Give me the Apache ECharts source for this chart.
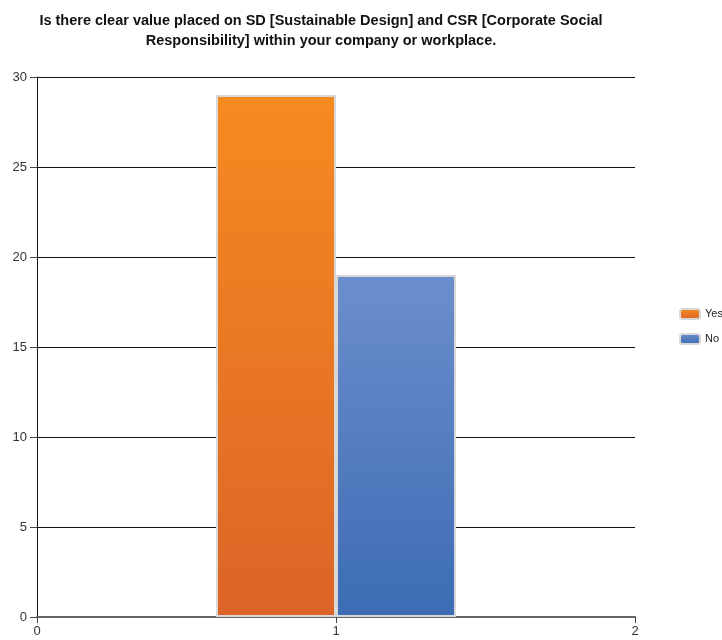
<!DOCTYPE html>
<html><head><meta charset="utf-8">
<script src="https://cdn.jsdelivr.net/npm/echarts@6/dist/echarts.min.js"></script>
<style>html,body{margin:0;padding:0;background:#fff}#c{width:722px;height:640px}</style>
</head><body><div id="c"></div>
<script>
const titleText = "Is there clear value placed on SD [Sustainable Design] and CSR [Corporate Social\nResponsibility] within your company or workplace.";
const seriesNames = ["Yes", "No"];
const xPosition = 1;
const yesValues = [29];
const noValues = [19];
const xTicks = [0, 1, 2];
const yTicks = [0, 5, 10, 15, 20, 25, 30];

const chart = echarts.init(document.getElementById('c'));
const font = "'Liberation Sans Narrow', 'Arial Narrow', 'Liberation Sans', sans-serif";
function grad(top, bottom) {
  return new echarts.graphic.LinearGradient(0, 0, 0, 1, [{offset: 0, color: top}, {offset: 1, color: bottom}]);
}
chart.setOption({
  animation: false,
  title: {
    text: titleText, left: 316, top: 6, textAlign: 'center',
    textStyle: {fontFamily: font, fontWeight: 'bold', fontSize: 14.5, color: '#111', lineHeight: 20}
  },
  legend: {
    orient: 'vertical', left: 674, top: 303, itemWidth: 20, itemHeight: 10, itemGap: 13,
    textStyle: {fontFamily: font, fontSize: 11, color: '#222'},
    data: seriesNames
  },
  grid: {left: 37, right: 87, top: 77, bottom: 23},
  xAxis: {
    type: 'value', min: xTicks[0], max: xTicks[xTicks.length - 1], interval: 1,
    axisLine: {show: true, lineStyle: {color: '#666', width: 2}},
    axisTick: {show: true, length: 6, lineStyle: {color: '#444'}},
    axisLabel: {fontFamily: font, fontSize: 13, color: '#333', margin: 8},
    splitLine: {show: false}
  },
  yAxis: {
    type: 'value', min: yTicks[0], max: yTicks[yTicks.length - 1], interval: 5,
    axisLine: {show: true, lineStyle: {color: '#111', width: 1}},
    axisTick: {show: true, length: 7, lineStyle: {color: '#444'}},
    axisLabel: {fontFamily: font, fontSize: 13, color: '#333', margin: 10},
    splitLine: {show: true, lineStyle: {color: '#111', width: 1}}
  },
  series: [
    {name: seriesNames[0], type: 'bar', barWidth: 120, barGap: '0%',
     data: yesValues.map(v => [xPosition, v]),
     itemStyle: {color: grad('#F68B20', '#DC6427'), borderColor: '#D8D8D8', borderWidth: 2}},
    {name: seriesNames[1], type: 'bar', barWidth: 120, barGap: '0%',
     data: noValues.map(v => [xPosition, v]),
     itemStyle: {color: grad('#6C8ECC', '#3C6CB4'), borderColor: '#D8D8D8', borderWidth: 2}}
  ]
});
</script></body></html>
